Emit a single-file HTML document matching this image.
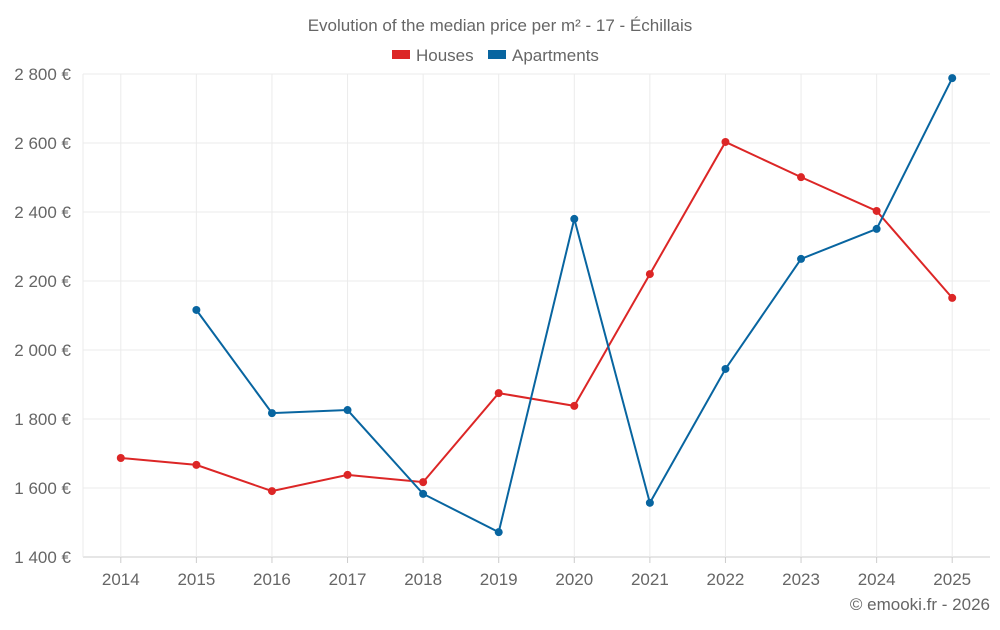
<!DOCTYPE html>
<html><head><meta charset="utf-8"><style>
body{margin:0;background:#fff;font-family:"Liberation Sans",sans-serif}
svg text{font-family:"Liberation Sans",sans-serif;fill:#666}
</style></head><body>
<svg id="chart" width="1000" height="625">
<text x="500" y="31" text-anchor="middle" font-size="17">Evolution of the median price per m² - 17 - Échillais</text>
<g>
<rect x="392" y="50" width="18" height="9" fill="#dc2626"/>
<text x="416" y="61" font-size="17">Houses</text>
<rect x="488" y="50" width="18" height="9" fill="#0865a0"/>
<text x="512" y="61" font-size="17">Apartments</text>
</g>
<g id="grid"></g><g id="axes"></g><g id="series"></g>
<text x="990" y="610" text-anchor="end" font-size="17">© emooki.fr - 2026</text>
</svg>
<script>
const years=[2014,2015,2016,2017,2018,2019,2020,2021,2022,2023,2024,2025];
const houses=[1687,1667,1591,1638,1617,1875,1838,2220,2603,2501,2403,2151];
const apartments=[null,2116,1817,1826,1583,1472,2380,1557,1945,2264,2351,2788];
const yTicks=[1400,1600,1800,2000,2200,2400,2600,2800];
const L=83,R=990,T=74,B=557,yMin=1400,yMax=2800;
const bw=(R-L)/years.length;
const x=i=>L+bw*(i+0.5);
const y=v=>B-(v-yMin)/(yMax-yMin)*(B-T);
const NS="http://www.w3.org/2000/svg";
function mk(tag,attrs,parent){const e=document.createElementNS(NS,tag);for(const k in attrs)e.setAttribute(k,attrs[k]);document.getElementById(parent).appendChild(e);return e;}
const fmt=v=>String(v).replace(/\B(?=(\d{3})+(?!\d))/g," ")+" €";
yTicks.forEach(t=>{
 const g=mk("line",{x1:L,x2:R,y1:y(t),y2:y(t),stroke:t===yMin?"#ccc":"#ebebeb"},"grid");
 
 
 const tx=mk("text",{x:L-12,y:y(t)+6,"text-anchor":"end","font-size":"17"},"axes");
 tx.textContent=fmt(t);
 
 
});
mk("line",{x1:L,x2:L,y1:T,y2:B,stroke:"#ebebeb"},"grid");
years.forEach((yr,i)=>{
 const g=mk("line",{x1:x(i),x2:x(i),y1:T,y2:B,stroke:"#ebebeb"},"grid");
 
 
 const tk=mk("line",{x1:x(i),x2:x(i),y1:B,y2:B+6,stroke:"#ccc"},"axes");
 
 
 const tx=mk("text",{x:x(i),y:B+28,"text-anchor":"middle","font-size":"17"},"axes");
 tx.textContent=yr;
 
 
});
function draw(vals,color,name){
 let d="";vals.forEach((v,i)=>{if(v==null)return;d+=(d?"L":"M")+x(i)+","+y(v);});
 const p=mk("path",{d:d,fill:"none",stroke:color,"stroke-width":2},"series");
 
 
 vals.forEach((v,i)=>{if(v==null)return;
  const c=mk("circle",{cx:x(i),cy:y(v),r:4,fill:color},"series");
  
  
 });
}
draw(houses,"#dc2626","houses");
draw(apartments,"#0865a0","apartments");
</script>
</body></html>
